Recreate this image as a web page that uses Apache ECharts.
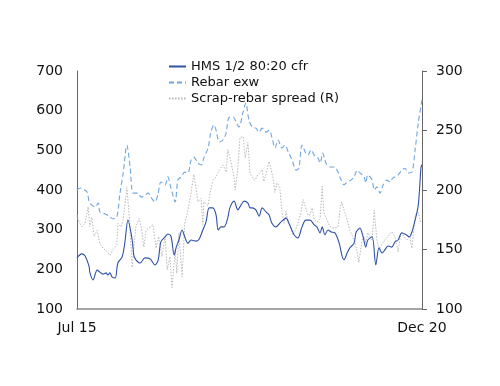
<!DOCTYPE html>
<html>
<head>
<meta charset="utf-8">
<script src="https://cdn.jsdelivr.net/npm/echarts@6/dist/echarts.min.js"></script>
<style>html,body{margin:0;padding:0;background:#fff}#c{width:500px;height:386px}</style>
</head>
<body>
<div id="c"></div>
<script>
// x values are months since Jul 2015 (0 = Jul 15, 65 = Dec 20)
var xTickLabels = ['Jul 15', 'Dec 20'];
var xTickValues = [0, 65];
var seriesNames = ['HMS 1/2 80:20 cfr', 'Rebar exw', 'Scrap-rebar spread (R)'];

var hms = [
[0,229],[0.9,239],[1.5,234],[2.3,206],[2.4,193],[3.0,173],[3.8,198],[4.3,193],[4.9,188],[5.5,191],
[5.8,186],[6.2,191],[6.6,181],[7.2,178],[7.7,216],[8.5,231],[9.0,266],[9.6,324],[10.4,274],[10.7,236],
[11.1,224],[11.9,216],[12.8,229],[13.8,226],[14.7,211],[15.3,224],[15.8,269],[16.6,282],[17.1,289],[17.7,284],
[18.3,236],[18.7,256],[19.2,274],[19.8,299],[20.3,282],[20.9,266],[21.5,274],[22.4,271],[23.0,276],[23.7,299],
[24.3,319],[24.9,355],[25.6,355],[26.2,337],[26.6,299],[27.1,307],[27.7,307],[28.4,329],[28.8,355],[29.6,372],
[30.3,350],[30.9,362],[31.5,372],[32.2,367],[32.6,355],[33.0,355],[33.7,350],[34.3,334],[34.9,355],[35.6,345],
[36.2,337],[36.7,317],[37.5,307],[38.4,319],[39.4,329],[39.9,317],[40.9,287],[41.6,279],[42.4,307],[43.1,324],
[43.9,324],[44.7,312],[45.2,307],[45.8,292],[46.2,307],[46.7,287],[47.3,299],[47.9,294],[48.6,292],[49.4,266],
[49.9,236],[50.3,224],[50.9,241],[51.4,254],[52.2,266],[52.6,294],[53.3,304],[53.9,282],[54.4,256],[54.8,274],
[55.6,282],[56.3,211],[56.9,254],[57.5,241],[58.0,249],[58.6,259],[59.3,256],[59.9,269],[60.5,274],[61.2,292],
[62.0,287],[62.6,282],[63.1,294],[63.7,324],[64.3,362],[64.8,455],[65,465]
];

var rebar = [
[0,400],[0.6,405],[1.1,403],[1.9,395],[2.3,370],[2.8,362],[3.4,357],[4.0,367],[4.3,345],[4.9,342],
[5.7,337],[6.2,332],[6.8,327],[7.5,332],[8.1,392],[8.7,443],[9.4,513],[10.0,458],[10.6,392],[11.5,392],
[12.1,382],[12.8,387],[13.4,392],[13.9,382],[14.7,370],[15.3,392],[15.8,420],[16.6,413],[17.1,433],[17.7,405],
[18.5,370],[19.0,425],[19.6,433],[20.3,445],[20.9,443],[21.5,476],[22.0,483],[22.8,468],[23.4,463],[23.9,481],
[24.7,506],[25.2,544],[25.8,564],[26.2,551],[26.8,521],[27.5,526],[28.1,544],[28.6,582],[29.4,584],[30.0,571],
[30.5,559],[31.3,597],[31.8,619],[32.4,576],[33.0,559],[33.7,556],[34.3,546],[34.9,556],[35.6,546],[36.2,551],
[36.7,534],[37.3,506],[37.9,526],[38.6,506],[39.2,513],[39.8,496],[40.5,476],[41.3,450],[41.8,455],[42.4,513],
[43.0,496],[43.5,488],[44.1,501],[44.7,488],[45.4,481],[45.8,468],[46.3,493],[46.9,468],[47.7,458],[48.4,458],
[49.2,445],[49.6,430],[50.3,413],[50.9,420],[51.6,425],[52.2,433],[52.8,450],[53.3,443],[54.1,433],[54.4,418],
[54.8,438],[55.6,425],[56.0,400],[56.5,408],[57.1,392],[57.7,413],[58.4,425],[59.0,420],[59.5,430],[60.5,438],
[61.2,450],[61.8,455],[62.4,443],[63.1,445],[63.7,501],[64.3,569],[65,627]
];

var spread = [
[0,179],[0.2,175],[0.9,169],[1.5,172],[2.1,186],[2.4,169],[2.8,177],[3.2,161],[3.8,166],[4.3,155],
[4.9,151],[5.7,148],[6.2,145],[6.8,150],[7.5,154],[7.7,172],[8.3,169],[8.7,175],[9.4,202],[9.8,181],
[10.4,135],[10.7,152],[11.1,169],[11.7,176],[12.1,169],[12.6,152],[13.0,166],[13.8,169],[14.3,171],[14.9,151],
[15.4,161],[16.0,144],[16.6,161],[17.0,133],[17.5,144],[17.9,118],[18.5,150],[18.8,130],[19.2,164],[19.8,127],
[20.3,172],[20.9,183],[21.5,198],[22.0,213],[22.4,202],[22.8,190],[23.4,193],[23.7,171],[23.9,190],[24.7,187],
[25.1,198],[25.6,208],[26.2,211],[26.8,217],[27.5,221],[28.1,215],[28.4,234],[29.0,224],[29.6,210],[29.8,200],
[30.3,218],[30.7,244],[31.3,245],[31.7,227],[32.2,240],[32.6,214],[33.0,211],[33.5,208],[34.1,213],[34.9,217],
[35.2,207],[35.6,213],[36.2,224],[36.5,225],[36.9,211],[37.3,198],[37.7,206],[38.2,202],[38.6,182],[39.0,172],
[39.4,182],[39.8,173],[40.3,168],[40.7,162],[41.3,168],[41.6,172],[42.2,181],[42.6,192],[43.1,185],[43.5,179],
[43.9,179],[44.3,185],[44.7,175],[45.2,173],[45.8,176],[46.2,203],[46.5,181],[47.1,175],[47.7,169],[48.4,168],
[49.2,169],[49.6,186],[49.9,190],[50.3,183],[50.9,175],[51.4,166],[52.2,158],[52.8,148],[53.1,139],[53.7,158],
[54.1,161],[54.4,155],[54.8,164],[55.6,158],[56.0,183],[56.5,158],[56.9,150],[57.5,155],[58.0,158],[58.6,161],
[59.3,165],[59.9,161],[60.5,148],[60.9,161],[61.4,162],[62.2,158],[62.7,161],[63.1,151],[63.7,179],[64.3,181],
[64.8,172]
];

var FONT = 'DejaVu Sans';
var chart = echarts.init(document.getElementById('c'), null, {renderer: 'canvas'});
chart.setOption({
  animation: false,
  textStyle: {fontFamily: FONT},
  legend: {
    orient: 'vertical',
    left: 163, top: 55,
    itemWidth: 17, itemHeight: 14, itemGap: 3,
    itemStyle: {opacity: 0},
    textStyle: {fontFamily: FONT, fontSize: 13, color: '#111'},
    data: seriesNames
  },
  grid: {left: 77, right: 78, top: 71, bottom: 77},
  xAxis: {
    type: 'value', min: 0, max: 65,
    splitLine: {show: false},
    axisLine: {show: true, lineStyle: {color: '#888', width: 1.5}},
    axisTick: {show: false},
    axisLabel: {
      customValues: xTickValues,
      formatter: function (v) { var i = xTickValues.indexOf(v); return i >= 0 ? xTickLabels[i] : ''; },
      fontFamily: FONT, fontSize: 14, color: '#111', margin: 12
    }
  },
  yAxis: [{
    type: 'value', min: 100, max: 700, interval: 100, position: 'left',
    splitLine: {show: false},
    axisLine: {show: true, lineStyle: {color: '#666', width: 1}},
    axisTick: {show: false},
    axisLabel: {fontFamily: FONT, fontSize: 14, color: '#111', margin: 14}
  }, {
    type: 'value', min: 100, max: 300, interval: 50, position: 'right',
    splitLine: {show: false},
    axisLine: {show: true, lineStyle: {color: '#666', width: 1}},
    axisTick: {show: true, length: 5, inside: false, lineStyle: {color: '#666'}},
    axisLabel: {fontFamily: FONT, fontSize: 14, color: '#111', margin: 14}
  }],
  series: [{
    name: seriesNames[0], type: 'line', yAxisIndex: 0, data: hms,
    symbol: 'none', showSymbol: false, smooth: 0.3,
    lineStyle: {color: '#2f52a6', width: 1.1},
    itemStyle: {color: '#2f52a6'}, z: 3
  }, {
    name: seriesNames[1], type: 'line', yAxisIndex: 0, data: rebar,
    symbol: 'none', showSymbol: false, smooth: 0.3,
    lineStyle: {color: '#6fa6e0', width: 1.1, type: [5, 3]},
    itemStyle: {color: '#6fa6e0'}, z: 2
  }, {
    name: seriesNames[2], type: 'line', yAxisIndex: 1, data: spread,
    symbol: 'none', showSymbol: false,
    lineStyle: {color: '#b8b8b8', width: 1, type: [1.5, 1.5]},
    itemStyle: {color: '#b8b8b8'}, z: 1
  }]
});
</script>
</body>
</html>
